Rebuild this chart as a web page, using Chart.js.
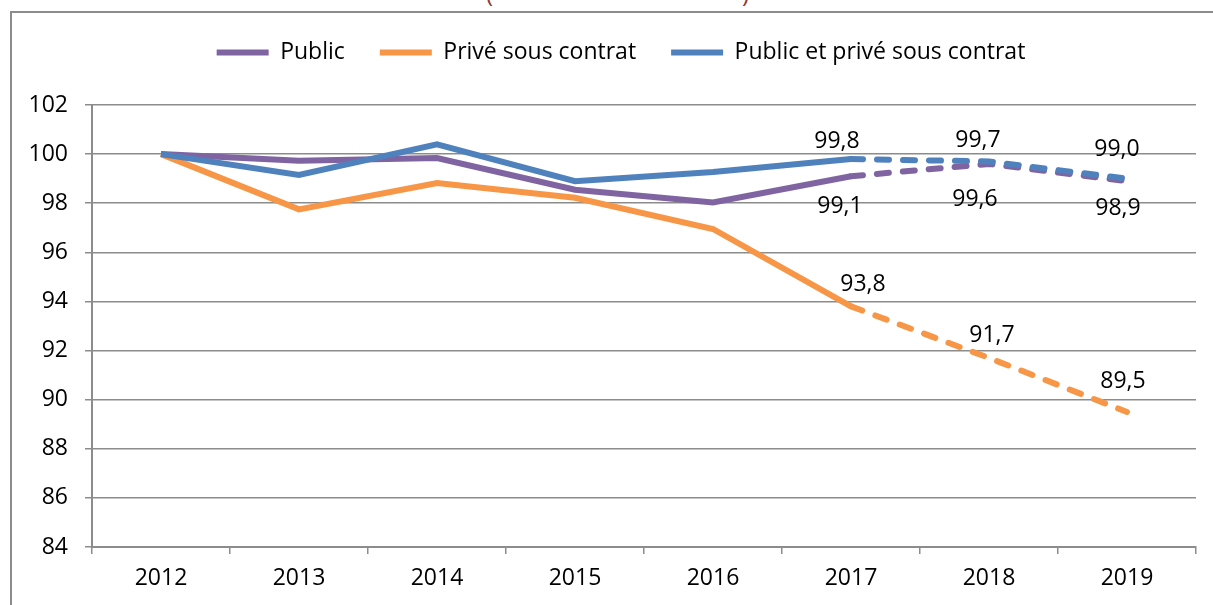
<!DOCTYPE html>
<html>
<head>
<meta charset="utf-8">
<script src="https://cdn.jsdelivr.net/npm/chart.js@4.4.1/dist/chart.umd.min.js"></script>
<style>
	html, body { margin: 0; padding: 0; background: #fff; overflow: hidden; }
	#frame { position: absolute; left: 10px; top: 11px; width: 1220px; height: 620px;
		border-left: 2px solid #8c8c8c; border-top: 2px solid #8c8c8c; }
	.paren { position: absolute; top: -19px; font: 24px "Open Sans"; line-height: 24px; color: #953735; }
	#box { position: absolute; left: 0; top: 0; width: 1213px; height: 605px; }
</style>
</head>
<body>
<span class="paren" style="left:486px">(</span>
<span class="paren" style="left:742px">)</span>
<div id="frame"></div>
<div id="box"><canvas id="myChart" width="1213" height="605"></canvas></div>
<script>
var years = ['2012', '2013', '2014', '2015', '2016', '2017', '2018', '2019'];
var publicValues = [100, 99.73, 99.84, 98.55, 98.03, 99.1, 99.6, 98.9];
var priveValues = [100, 97.75, 98.82, 98.22, 96.95, 93.8, 91.7, 89.5];
var ensembleValues = [100, 99.15, 100.4, 98.9, 99.27, 99.8, 99.7, 99.0];
var seriesNames = ['Public', 'Privé sous contrat', 'Public et privé sous contrat'];
var yMin = 84;
var yMax = 102;
var yStep = 2;
var firstProjected = 5; // 2017 : début des pointillés et des étiquettes

var colors = ['#8064A2', '#F79646', '#4F81BD'];
var font = 'Open Sans';
var fontSize = 23;

// décalage des étiquettes par point (2017, 2018, 2019)
var labelOffsets = [
	[[-11, 30], [-14, 36], [-9, 27]],
	[[12, -22], [3, -22], [-4, -30]],
	[[-14, -18], [-11, -21], [-10, -29]]
];

function makeSet(i, values, order)
{
	return {
		label: seriesNames[i],
		data: values,
		borderColor: colors[i],
		backgroundColor: colors[i],
		borderWidth: 6,
		pointRadius: 0,
		pointHoverRadius: 0,
		tension: 0,
		order: order,
		segment: {
			borderDash: function(c){ return c.p0DataIndex >= firstProjected ? [12, 14] : undefined; },
			borderCapStyle: function(c){ return c.p0DataIndex >= firstProjected ? 'round' : 'butt'; }
		}
	};
}

var valueLabels = {
	id: 'valueLabels',
	afterDatasetsDraw: function(chart)
	{
		var ctx = chart.ctx;
		ctx.save();
		ctx.font = fontSize + 'px "' + font + '"';
		ctx.fillStyle = '#000';
		ctx.textAlign = 'center';
		ctx.textBaseline = 'middle';
		chart.data.datasets.forEach(function(ds, i){
			var meta = chart.getDatasetMeta(i);
			for(var j = firstProjected; j < ds.data.length; j++)
			{
				var pt = meta.data[j];
				var o = labelOffsets[i][j - firstProjected];
				ctx.fillText(ds.data[j].toFixed(1).replace('.', ','), pt.x + o[0], pt.y + o[1]);
			}
		});
		ctx.restore();
	}
};

// légende plus haute que le contenu, et décalée un peu à droite comme dans l'original
var legendSpace = {
	id: 'legendSpace',
	beforeInit: function(chart)
	{
		var fit = chart.legend.fit;
		chart.legend.fit = function(){
			fit.call(this);
			this.height = 99;
		};
	},
	afterLayout: function(chart)
	{
		chart.legend.left += 17;
		chart.legend.right += 17;
	}
};

var gridColor = '#8c8c8c';
var ctx = document.getElementById('myChart').getContext('2d');
var chart = new Chart(ctx, {
	type: 'line',
	data: {
		labels: years,
		datasets: [
			makeSet(0, publicValues, 1),
			makeSet(1, priveValues, 2),
			makeSet(2, ensembleValues, 0)
		]
	},
	options: {
		responsive: false,
		animation: false,
		layout: { padding: { left: 12, right: 17, top: 6, bottom: 0 } },
		plugins: {
			tooltip: { enabled: false },
			legend: {
				position: 'top',
				labels: {
					color: '#000',
					font: { family: font, size: fontSize },
					boxWidth: 52,
					boxHeight: 6,
					padding: 35,
					sort: function(a, b){ return a.datasetIndex - b.datasetIndex; },
					generateLabels: function(c){
						return Chart.defaults.plugins.legend.labels.generateLabels(c).map(function(it){
							it.lineWidth = 0;
							return it;
						});
					}
				}
			}
		},
		scales: {
			x: {
				offset: true,
				grid: { display: true, drawOnChartArea: false, offset: true, tickLength: 7, color: gridColor, lineWidth: 1.5 },
				border: { color: gridColor, width: 2 },
				ticks: { color: '#000', font: { family: font, size: fontSize }, padding: 11, maxRotation: 0 },
				afterFit: function(s){ s.height = 58; }
			},
			y: {
				min: yMin,
				max: yMax,
				grid: { color: gridColor, lineWidth: 1.5, tickLength: 7 },
				border: { color: gridColor, width: 2 },
				ticks: { stepSize: yStep, color: '#000', font: { family: font, size: fontSize }, padding: 17 },
				afterFit: function(s){ s.width = 80; }
			}
		}
	},
	plugins: [valueLabels, legendSpace]
});
</script>
</body>
</html>
